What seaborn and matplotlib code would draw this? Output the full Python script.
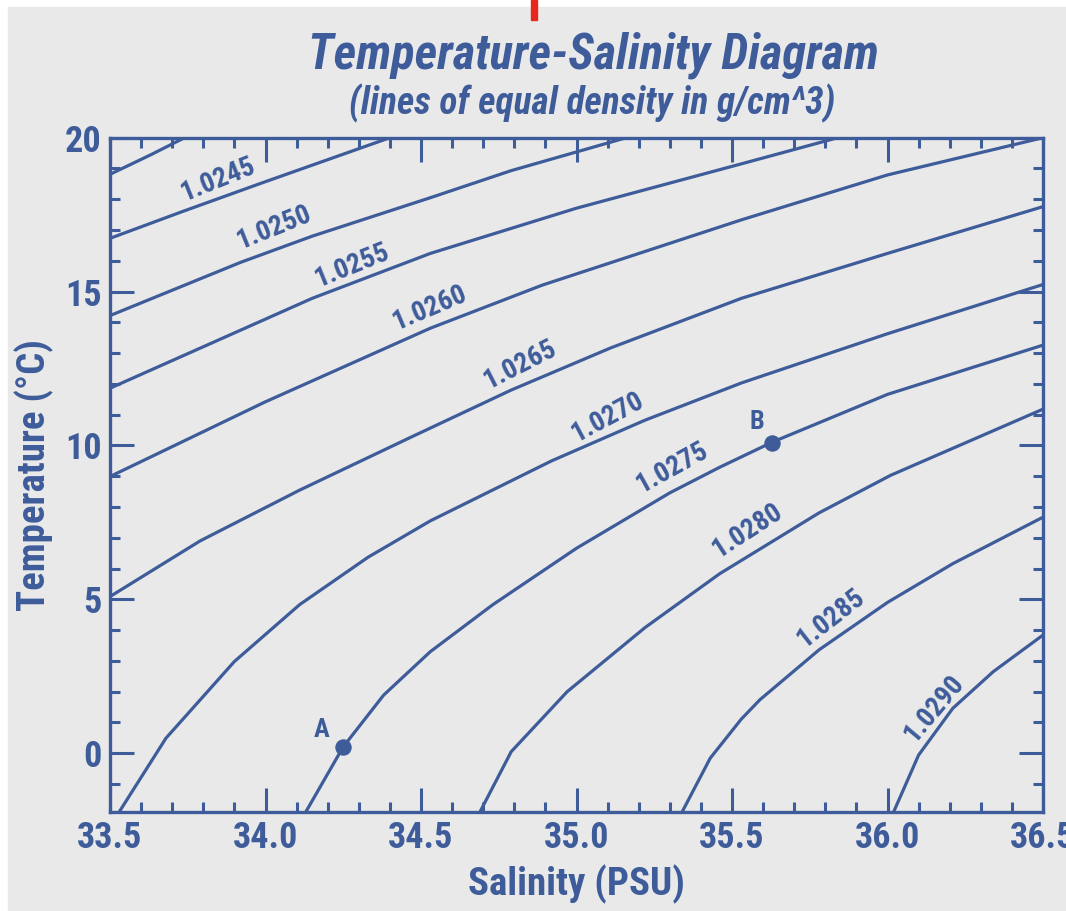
import matplotlib
matplotlib.use("Agg")
import matplotlib.pyplot as plt
import matplotlib.patches as mpatches
from matplotlib.ticker import MultipleLocator
import seaborn as sns

# ---- data (salinity PSU, temperature degC) ----
density_labels = ["1.0240", "1.0245", "1.0250", "1.0255", "1.0260", "1.0265",
                  "1.0270", "1.0275", "1.0280", "1.0285", "1.0290"]

s_0240 = [33.50, 33.63, 33.74]
t_0240 = [18.81, 19.44, 20.0]
s_0245 = [33.50, 33.73, 33.98, 34.40]
t_0245 = [16.73, 17.59, 18.50, 20.0]
s_0250 = [33.50, 33.92, 34.15, 34.53, 34.79, 35.16]
t_0250 = [14.22, 15.95, 16.80, 18.05, 18.93, 20.0]
s_0255 = [33.50, 34.15, 34.53, 35.00, 35.53, 35.84]
t_0255 = [11.86, 14.78, 16.24, 17.71, 19.15, 20.0]
s_0260 = [33.50, 34.00, 34.53, 34.89, 35.53, 36.00, 36.50]
t_0260 = [8.99, 11.42, 13.81, 15.21, 17.33, 18.79, 20.0]
s_0265 = [33.50, 33.79, 34.11, 34.47, 34.79, 35.11, 35.53, 36.00, 36.50]
t_0265 = [5.09, 6.90, 8.55, 10.28, 11.80, 13.17, 14.78, 16.24, 17.76]
s_0270 = [33.53, 33.68, 33.90, 34.11, 34.33, 34.53, 34.92, 35.22, 35.53, 36.00, 36.50]
t_0270 = [-1.90, 0.49, 2.98, 4.83, 6.37, 7.55, 9.50, 10.82, 12.03, 13.63, 15.23]
s_0275 = [34.13, 34.25, 34.38, 34.53, 34.73, 35.00, 35.30, 35.46, 35.63, 36.00, 36.50]
t_0275 = [-1.90, 0.21, 1.89, 3.30, 4.82, 6.66, 8.46, 9.29, 10.11, 11.66, 13.26]
s_0280 = [34.69, 34.79, 34.97, 35.22, 35.46, 35.78, 36.01, 36.50]
t_0280 = [-1.90, 0.05, 2.00, 4.08, 5.83, 7.81, 9.03, 11.18]
s_0285 = [35.34, 35.43, 35.53, 35.59, 35.78, 36.00, 36.21, 36.50]
t_0285 = [-1.90, -0.16, 1.11, 1.74, 3.36, 4.90, 6.16, 7.67]
s_0290 = [36.02, 36.10, 36.21, 36.34, 36.50]
t_0290 = [-1.90, -0.06, 1.46, 2.65, 3.84]

# label anchor (salinity, temperature) and angle for each labelled line
label_text = ["1.0245", "1.0250", "1.0255", "1.0260", "1.0265",
              "1.0270", "1.0275", "1.0280", "1.0285", "1.0290"]
label_s = [33.85, 34.03, 34.28, 34.53, 34.82, 35.10, 35.31, 35.55, 35.82, 36.15]
label_t = [18.63, 17.08, 15.85, 14.47, 12.62, 10.93, 9.27, 7.25, 4.40, 1.47]
label_rot = [22, 22, 22, 23, 27, 28, 29, 33, 38, 50]

point_names = ["A", "B"]
point_s = [34.25, 35.63]
point_t = [0.21, 10.07]

# ---- style ----
BLUE = "#3E5C9A"
BG = "#E9E9E9"
sns.set_style("white")
plt.rcParams['font.family'] = ['Roboto Condensed', 'Roboto', 'DejaVu Sans']

fig = plt.figure(figsize=(10.66, 9.11), dpi=100, facecolor="white")
fig.patches.append(mpatches.Rectangle((8 / 1066, 0), 1, 1 - 7 / 911,
                                      transform=fig.transFigure, color=BG, zorder=-10))
# small red mark at top of the original image
fig.patches.append(mpatches.Rectangle((531 / 1066, 1 - 20 / 911), 6 / 1066, 20 / 911,
                                      transform=fig.transFigure, color="#E8261C", zorder=5))

ax = fig.add_axes([110 / 1066, 1 - 811.7 / 911, 933 / 1066, 674 / 911])
ax.set_facecolor(BG)

lines_s = [s_0240, s_0245, s_0250, s_0255, s_0260, s_0265,
           s_0270, s_0275, s_0280, s_0285, s_0290]
lines_t = [t_0240, t_0245, t_0250, t_0255, t_0260, t_0265,
           t_0270, t_0275, t_0280, t_0285, t_0290]
for s, t in zip(lines_s, lines_t):
    sns.lineplot(x=s, y=t, sort=False, estimator=None, color=BLUE,
                 linewidth=2.3, ax=ax, solid_joinstyle="round", solid_capstyle="round")

for txt, s, t, r in zip(label_text, label_s, label_t, label_rot):
    ax.text(s, t, txt, rotation=r, rotation_mode="anchor", ha="center", va="center",
            fontsize=20, fontweight="bold", color=BLUE)

sns.scatterplot(x=point_s, y=point_t, color=BLUE, s=120, edgecolor=BLUE, ax=ax, zorder=5)
ax.text(point_s[0] - 0.07, point_t[0] + 0.55, point_names[0], fontsize=19,
        fontweight="bold", color=BLUE, ha="center", va="center")
ax.text(point_s[1] - 0.05, point_t[1] + 0.7, point_names[1], fontsize=19,
        fontweight="bold", color=BLUE, ha="center", va="center")

ax.set_xlim(33.5, 36.5)
ax.set_ylim(-1.9, 20)
ax.xaxis.set_major_locator(MultipleLocator(0.5))
ax.xaxis.set_minor_locator(MultipleLocator(0.1))
ax.yaxis.set_major_locator(MultipleLocator(5))
ax.yaxis.set_minor_locator(MultipleLocator(1))
ax.set_xticks([33.5, 34.0, 34.5, 35.0, 35.5, 36.0, 36.5])
ax.set_xticklabels(["33.5", "34.0", "34.5", "35.0", "35.5", "36.0", "36.5"])
ax.tick_params(which="both", direction="in", bottom=True, left=True, top=True, right=True,
               color=BLUE, labelcolor=BLUE, labelsize=26)
ax.tick_params(which="major", length=17, width=2.2, pad=6)
ax.tick_params(which="minor", length=7.5, width=2.2)
for lab in ax.get_xticklabels() + ax.get_yticklabels():
    lab.set_fontweight("bold")
for sp in ax.spines.values():
    sp.set_color(BLUE)
    sp.set_linewidth(2.4)

ax.set_xlabel("Salinity (PSU)", fontsize=28, fontweight="bold", color=BLUE, labelpad=6)
ax.set_ylabel("Temperature (°C)", fontsize=28, fontweight="bold", color=BLUE, labelpad=8)

fig.text(593 / 1066, 1 - 55 / 911, "Temperature-Salinity Diagram", fontsize=35,
         fontweight="bold", style="italic", color=BLUE, ha="center", va="center")
fig.text(592 / 1066, 1 - 103 / 911, "(lines of equal density in g/cm^3)", fontsize=27,
         fontweight="bold", style="italic", color=BLUE, ha="center", va="center")

fig.savefig("out.png", dpi=100, facecolor=fig.get_facecolor())
